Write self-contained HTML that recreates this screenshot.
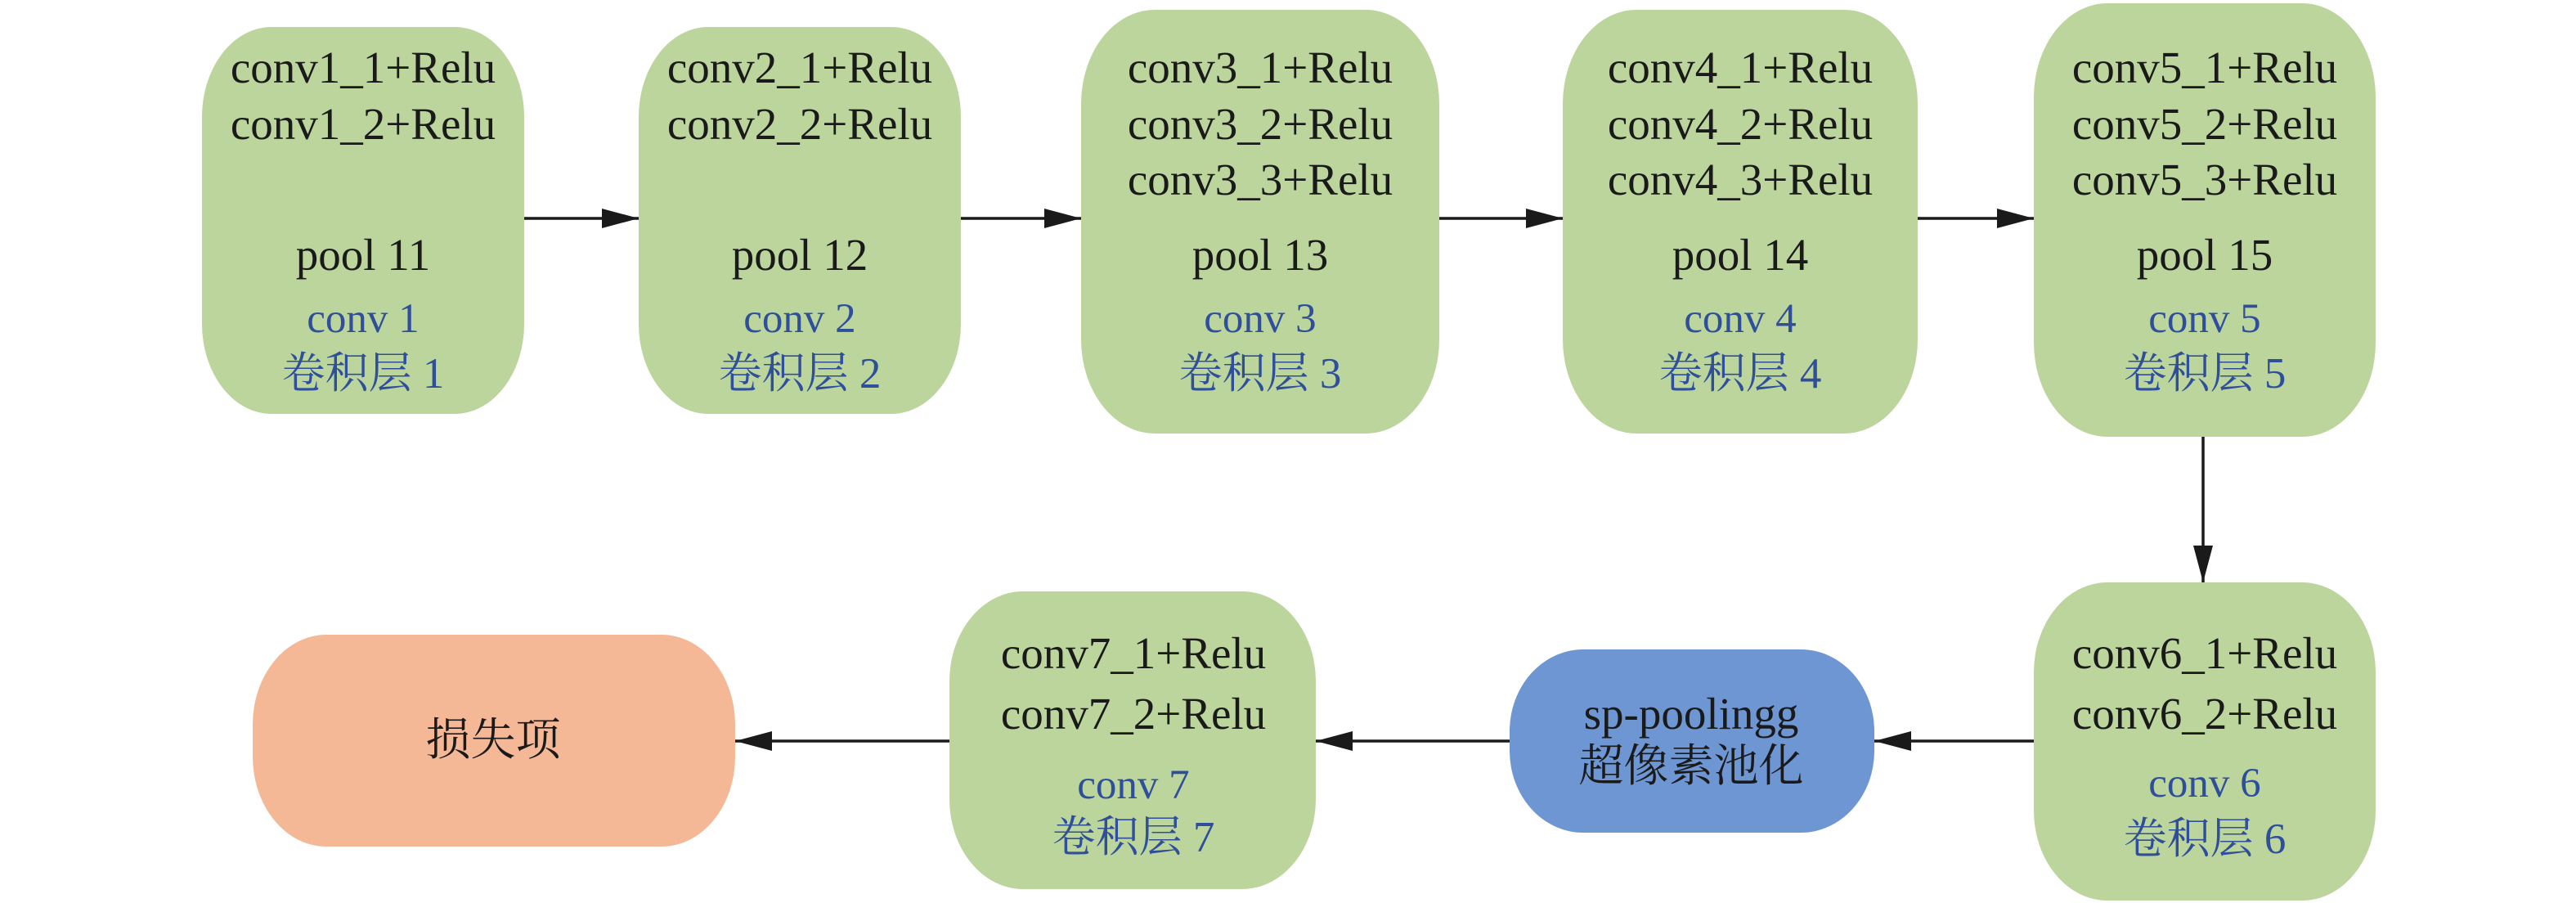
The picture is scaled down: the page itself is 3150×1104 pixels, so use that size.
<!DOCTYPE html>
<html><head><meta charset="utf-8"><style>
html,body{margin:0;padding:0;background:#fff;}
svg{display:block;}
text{font-family:"Liberation Serif","Noto Serif CJK SC",serif;text-anchor:middle;}
.k{fill:#1a1a1a;font-size:55px;}
.b{fill:#2f4f9b;font-size:51px;}
.c{fill:#2f4f9b;font-size:53px;}
</style></head><body>
<svg width="3150" height="1104" viewBox="0 0 3150 1104" xmlns="http://www.w3.org/2000/svg">
<defs><marker id="a" markerWidth="45" markerHeight="24" refX="45" refY="12" orient="auto" markerUnits="userSpaceOnUse"><path d="M0,0 L45,12 L0,24 Z" fill="#1a1a1a"/></marker></defs>
<g fill="#bbd59c">
<rect x="247" y="33" width="394" height="473" rx="85" ry="110"/>
<rect x="781" y="33" width="394" height="473" rx="85" ry="110"/>
<rect x="1322" y="12" width="438" height="518" rx="90" ry="115"/>
<rect x="1911" y="12" width="434" height="518" rx="90" ry="115"/>
<rect x="2487" y="4" width="418" height="530" rx="90" ry="115"/>
<rect x="2487" y="712" width="418" height="389" rx="90" ry="110"/>
<rect x="1161" y="723" width="448" height="364" rx="90" ry="110"/>
</g>
<rect x="1846" y="794" width="446" height="224" rx="90" ry="100" fill="#6d96d3"/>
<rect x="309" y="776" width="590" height="259" rx="90" ry="110" fill="#f4b896"/>
<g stroke="#1a1a1a" stroke-width="3.5" fill="none" marker-end="url(#a)">
<line x1="641" y1="267" x2="781" y2="267"/>
<line x1="1175" y1="267" x2="1322" y2="267"/>
<line x1="1760" y1="267" x2="1911" y2="267"/>
<line x1="2345" y1="267" x2="2487" y2="267"/>
<line x1="2694" y1="534" x2="2694" y2="712"/>
<line x1="2487" y1="906" x2="2292" y2="906"/>
<line x1="1846" y1="906" x2="1609" y2="906"/>
<line x1="1161" y1="906" x2="899" y2="906"/>
</g>
<g class="k">
<text x="444" y="101">conv1_1+Relu</text><text x="444" y="170">conv1_2+Relu</text><text x="444" y="330">pool 11</text>
<text x="978" y="101">conv2_1+Relu</text><text x="978" y="170">conv2_2+Relu</text><text x="978" y="330">pool 12</text>
<text x="1541" y="101">conv3_1+Relu</text><text x="1541" y="170">conv3_2+Relu</text><text x="1541" y="238">conv3_3+Relu</text><text x="1541" y="330">pool 13</text>
<text x="2128" y="101">conv4_1+Relu</text><text x="2128" y="170">conv4_2+Relu</text><text x="2128" y="238">conv4_3+Relu</text><text x="2128" y="330">pool 14</text>
<text x="2696" y="101">conv5_1+Relu</text><text x="2696" y="170">conv5_2+Relu</text><text x="2696" y="238">conv5_3+Relu</text><text x="2696" y="330">pool 15</text>
<text x="2696" y="817">conv6_1+Relu</text><text x="2696" y="891">conv6_2+Relu</text>
<text x="1386" y="817">conv7_1+Relu</text><text x="1386" y="891">conv7_2+Relu</text>
<text x="2068" y="891">sp-poolingg</text><text x="2068" y="955">超像素池化</text>
<text x="603" y="923">损失项</text>
</g>
<g class="b">
<text x="444" y="406">conv 1</text><text x="978" y="406">conv 2</text><text x="1541" y="406">conv 3</text><text x="2128" y="406">conv 4</text><text x="2696" y="406">conv 5</text>
<text x="2696" y="974">conv 6</text><text x="1386" y="976">conv 7</text>
</g>
<g class="c">
<text x="444" y="474">卷积层 1</text><text x="978" y="474">卷积层 2</text><text x="1541" y="474">卷积层 3</text><text x="2128" y="474">卷积层 4</text><text x="2696" y="474">卷积层 5</text>
<text x="2696" y="1043">卷积层 6</text><text x="1386" y="1041">卷积层 7</text>
</g>
</svg>
</body></html>
